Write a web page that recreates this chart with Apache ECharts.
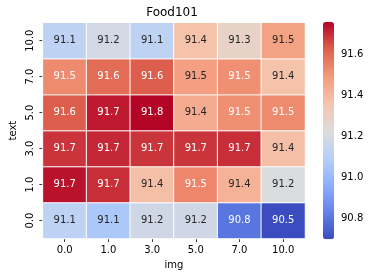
<!DOCTYPE html>
<html>
<head>
<meta charset="utf-8">
<script src="https://cdn.jsdelivr.net/npm/echarts@6/dist/echarts.min.js"></script>
<style>html,body{margin:0;padding:0;background:#fff;}#c{width:370px;height:278px;}</style>
</head>
<body>
<div id="c"></div>
<script>
// ---- data ----
var title = 'Food101';
var xName = 'img';
var yName = 'text';
var imgLabels = ['0.0', '1.0', '3.0', '5.0', '7.0', '10.0'];
var textLabels = ['0.0', '1.0', '3.0', '5.0', '7.0', '10.0']; // bottom to top
// one row per text value, columns follow imgLabels
var row_0 = [91.12, 91.06, 91.18, 91.18, 90.80, 90.50];
var row_1 = [91.74, 91.70, 91.38, 91.54, 91.42, 91.22];
var row_3 = [91.69, 91.71, 91.69, 91.69, 91.70, 91.38];
var row_5 = [91.63, 91.73, 91.76, 91.44, 91.52, 91.53];
var row_7 = [91.53, 91.60, 91.63, 91.48, 91.52, 91.37];
var row_10 = [91.12, 91.19, 91.12, 91.37, 91.29, 91.47];
var rows = [row_0, row_1, row_3, row_5, row_7, row_10];
var vmin = 90.70, vmax = 91.76;
var cbarTicks = [90.8, 91.0, 91.2, 91.4, 91.6];

// ---- coolwarm colormap ----
var cw = [[59,76,192],[98,130,234],[141,176,254],[184,208,249],[221,220,219],[245,196,173],[244,154,123],[222,96,77],[180,4,38]];
function toHex(c){return '#'+c.map(function(v){var h=Math.round(v).toString(16);return h.length<2?'0'+h:h;}).join('');}
function cmap(v){
  var t=(v-vmin)/(vmax-vmin); t=Math.max(0,Math.min(1,t));
  var p=t*(cw.length-1); var i=Math.min(Math.floor(p),cw.length-2); var f=p-i;
  return [0,1,2].map(function(k){return cw[i][k]+(cw[i+1][k]-cw[i][k])*f;});
}
function lum(c){
  var l=c.map(function(v){v/=255;return v<=0.03928?v/12.92:Math.pow((v+0.055)/1.055,2.4);});
  return 0.2126*l[0]+0.7152*l[1]+0.0722*l[2];
}
var data=[];
rows.forEach(function(r,yi){
  r.forEach(function(v,xi){
    data.push({value:[xi,yi,v],label:{color: lum(cmap(v))>0.408?'#262626':'#ffffff'}});
  });
});

var font='DejaVu Sans';
var chart=echarts.init(document.getElementById('c'),null,{renderer:'canvas'});
chart.setOption({
  animation:false,
  backgroundColor:'#ffffff',
  textStyle:{fontFamily:font},
  graphic:[
    {type:'text',x:172,y:12.7,style:{text:title,fontFamily:font,fontSize:12,fill:'#000',textAlign:'center',textVerticalAlign:'middle'}}
  ],
  grid:[
    {left:39,right:65,top:22.7,bottom:39.5},
    {left:323,width:11,top:22,bottom:38.7}
  ],
  xAxis:[
    {type:'category',gridIndex:0,data:imgLabels,position:'bottom',
     axisLine:{show:false},splitLine:{show:false},
     axisTick:{show:true,alignWithLabel:true,length:3.5,lineStyle:{color:'#000',width:0.8}},
     axisLabel:{fontFamily:font,fontSize:10,color:'#000',margin:7},
     name:xName,nameLocation:'middle',nameGap:21.5,nameTextStyle:{fontFamily:font,fontSize:10,color:'#000'}},
    {type:'value',gridIndex:1,show:false,min:0,max:1}
  ],
  yAxis:[
    {type:'category',gridIndex:0,data:textLabels,position:'left',
     axisLine:{show:false},splitLine:{show:false},
     axisTick:{show:true,alignWithLabel:true,length:3.5,lineStyle:{color:'#000',width:0.8}},
     axisLabel:{fontFamily:font,fontSize:10,color:'#000',margin:7,rotate:90},
     name:yName,nameLocation:'middle',nameGap:23,nameRotate:90,nameTextStyle:{fontFamily:font,fontSize:10,color:'#000'}},
    {type:'value',gridIndex:1,position:'right',min:vmin,max:vmax,
     axisLine:{show:false},splitLine:{show:false},
     axisTick:{show:true,length:3.5,customValues:cbarTicks,lineStyle:{color:'#000',width:0.8}},
     axisLabel:{fontFamily:font,fontSize:10,color:'#000',margin:7,customValues:cbarTicks,formatter:function(v){return v.toFixed(1);}}}
  ],
  visualMap:{
    type:'continuous',min:vmin,max:vmax,seriesIndex:0,dimension:2,
    calculable:false,left:323,top:22,itemWidth:11,itemHeight:217.3,padding:0,
    text:null,showLabel:false,hoverLink:false,
    inRange:{color:cw.map(toHex)}
  },
  series:[{
    type:'heatmap',xAxisIndex:0,yAxisIndex:0,data:data,
    itemStyle:{borderColor:'#ffffff',borderWidth:1},
    label:{show:true,fontFamily:font,fontSize:10,formatter:function(p){return p.value[2].toFixed(1);}},
    emphasis:{disabled:true}
  }]
});
</script>
</body>
</html>
